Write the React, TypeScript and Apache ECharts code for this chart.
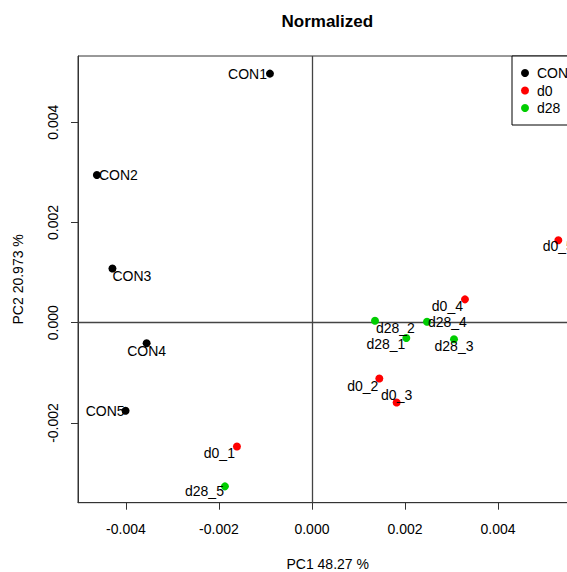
import React, { useEffect, useRef } from "react";
import * as echarts from "echarts";

// ---- data ----
const conNames = ["CON1", "CON2", "CON3", "CON4", "CON5"];
const conX = [-0.000903, -0.004624, -0.00429, -0.003555, -0.004007];
const conY = [0.004969, 0.002945, 0.001083, -0.00041, -0.001757];

const d0Names = ["d0_1", "d0_2", "d0_3", "d0_4", "d0_5"];
const d0X = [-0.001613, 0.001448, 0.001821, 0.00329, 0.005297];
const d0Y = [-0.002468, -0.001114, -0.001592, 0.000466, 0.001646];

const d28Names = ["d28_1", "d28_2", "d28_3", "d28_4", "d28_5"];
const d28X = [0.002029, 0.001355, 0.003054, 0.002473, -0.001871];
const d28Y = [-0.000304, 0.00004, -0.000331, 0.00002, -0.003264];

const xTicks = [-0.004, -0.002, 0, 0.002, 0.004];
const yTicks = [-0.002, 0, 0.002, 0.004];

const groupNames = ["CON", "d0", "d28"];
const groupColors = ["#000000", "#FF0000", "#00CD00"];

// ---- label placement (style) ----
const labelPlace: Record<string, [string, number, number]> = {
  CON1: ["right", -3, 0],
  CON2: ["left", 2, 0],
  CON3: ["left", 0, 8],
  CON4: ["center", 0, 8],
  CON5: ["right", -1, 0],
  d0_1: ["right", -2, 7],
  d0_2: ["right", -1, 7],
  d0_3: ["center", 0, -8],
  d0_4: ["right", -2, 7],
  d0_5: ["center", 0, 6],
  d28_1: ["right", -1, 6],
  d28_2: ["left", 1, 7],
  d28_3: ["center", 0, 7],
  d28_4: ["left", 1, 0],
  d28_5: ["right", -1, 5],
};

const FONT = "'Liberation Sans', Arial, Helvetica, sans-serif";

function buildData(names: string[], xs: number[], ys: number[]) {
  return names.map((n, i) => {
    const p = labelPlace[n] || ["center", 0, 0];
    return {
      name: n,
      value: [xs[i], ys[i]],
      label: { align: p[0], offset: [p[1], p[2]] },
    };
  });
}

export default function App() {
  const ref = useRef<HTMLDivElement>(null);
  useEffect(() => {
    if (!ref.current) return;
    const chart = echarts.init(ref.current, undefined, { renderer: "svg" });
    const seriesData = [
      buildData(conNames, conX, conY),
      buildData(d0Names, d0X, d0Y),
      buildData(d28Names, d28X, d28Y),
    ];
    const series: any[] = groupNames.map((g, i) => ({
      type: "scatter",
      name: g,
      symbol: "circle",
      symbolSize: 8,
      itemStyle: { color: groupColors[i], opacity: 1 },
      data: seriesData[i],
      label: {
        show: true,
        position: "inside",
        formatter: (p: any) => p.name,
        color: "#000",
        fontSize: 14,
        fontFamily: FONT,
        verticalAlign: "middle",
        textBorderWidth: 0,
      },
      emphasis: { disabled: true },
      z: 3,
    }));
    series[0].markLine = {
      silent: true,
      symbol: "none",
      label: { show: false },
      lineStyle: { color: "#444", type: "solid", width: 1.3 },
      data: [{ xAxis: 0 }, { yAxis: 0 }],
      z: 1,
    };
    chart.setOption({
      animation: false,
      backgroundColor: "#fff",
      textStyle: { fontFamily: FONT },
      title: {
        text: "Normalized",
        left: 281.5,
        top: 12.5,
        padding: 0,
        textStyle: { fontSize: 17, fontWeight: "bold", color: "#000", fontFamily: FONT },
      },
      legend: {
        orient: "vertical",
        left: 512,
        top: 56,
        padding: [10, 9, 10, 9],
        itemWidth: 14,
        itemHeight: 8,
        itemGap: 3.5,
        icon: "circle",
        borderColor: "#000",
        borderWidth: 1,
        borderRadius: 0,
        backgroundColor: "#fff",
        textStyle: { fontSize: 14, color: "#000", fontFamily: FONT },
        data: groupNames,
        selectedMode: false,
      },
      grid: {
        left: 78,
        right: -10.4,
        top: 56,
        bottom: 69.3,
        show: true,
        borderColor: "#333",
        borderWidth: 1,
        backgroundColor: "transparent",
        containLabel: false,
        outerBoundsMode: "none",
      },
      xAxis: {
        type: "value",
        min: -0.00503,
        max: 0.005707,
        name: "PC1 48.27 %",
        nameLocation: "middle",
        nameGap: 54,
        nameTextStyle: { fontSize: 14, color: "#000", fontFamily: FONT },
        splitLine: { show: false },
        axisLine: { show: true, onZero: false, lineStyle: { color: "#333" } },
        axisTick: {
          show: true,
          inside: false,
          length: 7,
          customValues: xTicks,
          lineStyle: { color: "#333" },
        },
        axisLabel: {
          show: true,
          customValues: xTicks,
          margin: 19,
          fontSize: 14,
          color: "#000",
          fontFamily: FONT,
          formatter: (v: number) => v.toFixed(3),
        },
      },
      yAxis: {
        type: "value",
        min: -0.00359,
        max: 0.00532,
        name: "PC2 20.973 %",
        nameLocation: "middle",
        nameGap: 53,
        nameRotate: 90,
        nameTextStyle: { fontSize: 14, color: "#000", fontFamily: FONT },
        splitLine: { show: false },
        axisLine: { show: true, onZero: false, lineStyle: { color: "#333" } },
        axisTick: {
          show: true,
          inside: false,
          length: 7,
          customValues: yTicks,
          lineStyle: { color: "#333" },
        },
        axisLabel: {
          show: true,
          customValues: yTicks,
          rotate: 90,
          margin: 18,
          fontSize: 14,
          color: "#000",
          fontFamily: FONT,
          formatter: (v: number) => v.toFixed(3),
        },
      },
      series,
    });
    return () => chart.dispose();
  }, []);
  return (
    <div
      ref={ref}
      style={{ position: "fixed", left: 0, top: 0, width: 567, height: 572, background: "#fff" }}
    />
  );
}
